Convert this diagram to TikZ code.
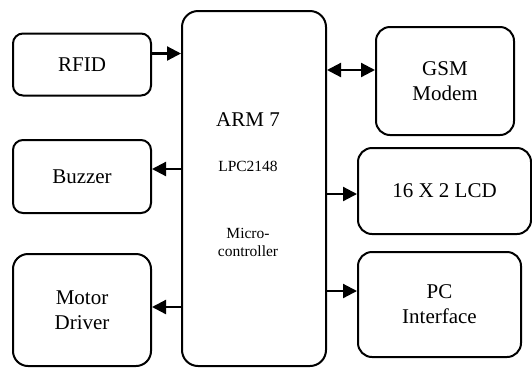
\documentclass[tikz,border=0pt]{standalone}
\usepackage{fontspec}
\setmainfont{Liberation Serif}
\newfontfamily\tnr{Liberation Serif}
\usetikzlibrary{arrows.meta,positioning,calc}

\begin{document}
\begin{tikzpicture}[
  x=1pt, y=-1pt,
  blk/.style={draw,line width=2pt,rounded corners=12pt,align=center,inner sep=0pt,font=\tnr\fontsize{21}{25}\selectfont},
  cpu/.style={draw,line width=2pt,rounded corners=16pt,inner sep=0pt,minimum width=144pt,minimum height=355pt},
  small/.style={align=center,inner sep=0pt,font=\tnr\fontsize{15.5}{18}\selectfont},
  arr/.style={line width=2.2pt,-{Triangle[length=14pt,width=14pt]}},
  darr/.style={line width=2.2pt,{Triangle[length=14pt,width=14pt]}-{Triangle[length=14pt,width=14pt]}}
]
\useasboundingbox (0,0) rectangle (532,368);

\node[cpu] (mcu) at (254,188.5) {};
\node[align=center,inner sep=0pt,font=\tnr\fontsize{21}{25}\selectfont] (arm) at (248,120) {ARM 7};
\node[small] (lpc) at (248,166) {LPC2148};
\node[small] (micro) at (248,242) {Micro-\\controller};

\node[blk,minimum width=138pt,minimum height=62pt,rounded corners=10pt] (rfid) at (82,64.5) {RFID};
\node[blk,minimum width=138pt,minimum height=73pt,rounded corners=10pt] (buzzer) at (82,176.5) {Buzzer};
\node[blk,minimum width=138pt,minimum height=112pt,rounded corners=15pt] (motor) at (82,310) {Motor\\Driver};

\node[blk,minimum width=138pt,minimum height=108pt,rounded corners=14pt] (gsm) at (445,81) {GSM\\Modem};
\node[blk,minimum width=173pt,minimum height=86pt,rounded corners=14pt] (lcd) at (444.5,191) {16 X 2 LCD};
\node[blk,minimum width=163pt,minimum height=105pt,rounded corners=14pt] (pc) at (439.5,304.5) {PC\\Interface};

\path ([yshift=11pt]rfid.east) coordinate (r1);
\path ([yshift=7.5pt]buzzer.east) coordinate (b1);
\path ([yshift=3pt]motor.east) coordinate (m1);
\path ([yshift=11pt]gsm.west) coordinate (g1);
\path ([yshift=-3pt]lcd.west) coordinate (l1);
\path ([yshift=13.5pt]pc.west) coordinate (p1);

\draw[arr] (r1) -- (r1 -| mcu.west);
\draw[arr] (b1 -| mcu.west) -- (b1);
\draw[arr] (m1 -| mcu.west) -- (m1);
\draw[darr] (g1 -| mcu.east) -- (g1);
\draw[arr] (l1 -| mcu.east) -- (l1);
\draw[arr] (p1 -| mcu.east) -- (p1);
\end{tikzpicture}
\end{document}
